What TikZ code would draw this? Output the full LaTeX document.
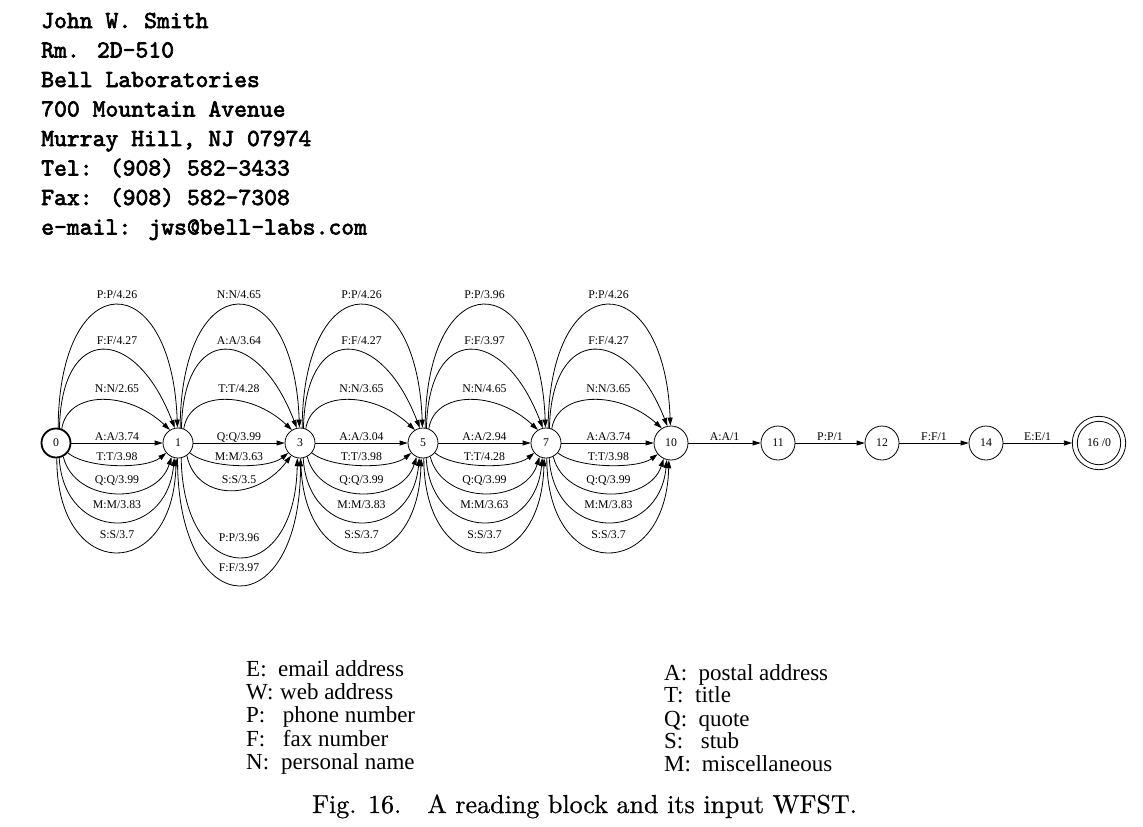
\documentclass[tikz,border=0pt]{standalone}
\usepackage{fontspec}
\newfontfamily\gvfont{Liberation Serif}
\newfontfamily\addrfont{lmmono10-regular.otf}[FakeBold=2.6]
\newfontfamily\capfont{lmroman10-regular.otf}[FakeBold=0.6]
\usetikzlibrary{arrows.meta,calc}

% generic curved arc: src, tgt, src angle, tgt angle, extreme pixel y, ctrl dx at start, ctrl dx at end (leftwards), label dy, label
\newcommand\garc[9]{%
  \draw[edge] let \p1=(#1.#3), \p2=(#2.#4) in
    (\p1) .. controls ({\x1+#6pt},{(-#5pt-0.125*(\y1+\y2))/0.75})
             and ({\x2-#7pt},{(-#5pt-0.125*(\y1+\y2))/0.75}) .. (\p2);
  \node[elbl] (L#1#2#5) at ($(#1)!0.5!(#2)+(0,#8)$) {#9};
}
\newcommand\uP[3]{\garc{#1}{#2}{82}{92}{305}{1}{6}{-145}{#3}}
\newcommand\uF[3]{\garc{#1}{#2}{77}{102}{350}{2}{40}{-98.5}{#3}}
\newcommand\uN[3]{\garc{#1}{#2}{68}{122}{400}{6}{42}{-51}{#3}}
\newcommand\sA[3]{\draw[edge] (#1) -- (#2);
  \node[elbl] (L#1#2s) at ($(#1)!0.5!(#2)+(0,-3)$) {#3};}
\newcommand\lT[3]{\garc{#1}{#2}{-40}{-140}{465}{20}{20}{17}{#3}}
\newcommand\lQ[3]{\garc{#1}{#2}{-62}{-115}{493}{12}{15}{40}{#3}}
\newcommand\lM[3]{\garc{#1}{#2}{-78}{-104}{522}{5}{8}{65}{#3}}
\newcommand\lS[3]{\garc{#1}{#2}{-87}{-97}{552}{0}{3}{95}{#3}}

\begin{document}
\begin{tikzpicture}[x=1pt,y=-1pt,
  edge/.style={line width=0.8pt,-{Triangle[length=8pt,width=5pt]}},
  elbl/.style={anchor=base,inner sep=0pt,font=\gvfont\fontsize{11.8}{12}\selectfont},
  st/.style={circle,draw,line width=0.8pt,minimum size=30pt,inner sep=0pt,font=\gvfont\fontsize{11.8}{12}\selectfont},
  st2/.style={st,minimum size=34pt},
  addr/.style={anchor=base west,inner sep=0pt,font=\addrfont\fontsize{24.5}{26}\selectfont},
  leg/.style={anchor=base west,inner sep=0pt,font=\gvfont\fontsize{23}{24}\selectfont},
  capt/.style={anchor=base,inner sep=0pt,font=\capfont\fontsize{26}{28}\selectfont}]
\useasboundingbox (0,0) rectangle (1143,827);

% address block
\node[addr] (a1) at (41,28) {John W. Smith};
\node[addr] (a2) at (41,57.5) {Rm. 2D-510};
\node[addr] (a3) at (41,87) {Bell Laboratories};
\node[addr] (a4) at (41,116.5) {700 Mountain Avenue};
\node[addr] (a5) at (41,146) {Murray Hill, NJ 07974};
\node[addr] (a6) at (41,175.5) {Tel: (908) 582-3433};
\node[addr] (a7) at (41,205) {Fax: (908) 582-7308};
\node[addr] (a8) at (41,234.5) {e-mail: jws@bell-labs.com};

% states
\node[st,line width=1.8pt,minimum size=29pt] (n0) at (56,443) {0};
\node[st] (n1) at (178,443) {1};
\node[st] (n3) at (300,443) {3};
\node[st] (n5) at (423,443) {5};
\node[st] (n7) at (546,443) {7};
\node[st2] (n10) at (671,443) {10};
\node[st2] (n11) at (778,443) {11};
\node[st2] (n12) at (882,443) {12};
\node[st2] (n14) at (986,443) {14};
\node[st,minimum size=53.4pt] (n16) at (1099,443) {16 /0};
\draw[line width=0.8pt] (n16.center) circle[radius=21.7pt];

% 0 -> 1
\uP{n0}{n1}{P:P/4.26}
\uF{n0}{n1}{F:F/4.27}
\uN{n0}{n1}{N:N/2.65}
\sA{n0}{n1}{A:A/3.74}
\lT{n0}{n1}{T:T/3.98}
\lQ{n0}{n1}{Q:Q/3.99}
\lM{n0}{n1}{M:M/3.83}
\lS{n0}{n1}{S:S/3.7}

% 1 -> 3
\uP{n1}{n3}{N:N/4.65}
\uF{n1}{n3}{A:A/3.64}
\uN{n1}{n3}{T:T/4.28}
\sA{n1}{n3}{Q:Q/3.99}
\lT{n1}{n3}{M:M/3.63}
\garc{n1}{n3}{-55}{-125}{490}{10}{35}{40}{S:S/3.5}
\garc{n1}{n3}{-78}{-100}{557}{2}{2}{98}{P:P/3.96}
\garc{n1}{n3}{-92}{-88}{585}{0}{0}{128}{F:F/3.97}

% 3 -> 5
\uP{n3}{n5}{P:P/4.26}
\uF{n3}{n5}{F:F/4.27}
\uN{n3}{n5}{N:N/3.65}
\sA{n3}{n5}{A:A/3.04}
\lT{n3}{n5}{T:T/3.98}
\lQ{n3}{n5}{Q:Q/3.99}
\lM{n3}{n5}{M:M/3.83}
\lS{n3}{n5}{S:S/3.7}

% 5 -> 7
\uP{n5}{n7}{P:P/3.96}
\uF{n5}{n7}{F:F/3.97}
\uN{n5}{n7}{N:N/4.65}
\sA{n5}{n7}{A:A/2.94}
\lT{n5}{n7}{T:T/4.28}
\lQ{n5}{n7}{Q:Q/3.99}
\lM{n5}{n7}{M:M/3.63}
\lS{n5}{n7}{S:S/3.7}

% 7 -> 10
\uP{n7}{n10}{P:P/4.26}
\uF{n7}{n10}{F:F/4.27}
\uN{n7}{n10}{N:N/3.65}
\sA{n7}{n10}{A:A/3.74}
\lT{n7}{n10}{T:T/3.98}
\lQ{n7}{n10}{Q:Q/3.99}
\lM{n7}{n10}{M:M/3.83}
\lS{n7}{n10}{S:S/3.7}

% chain
\sA{n10}{n11}{A:A/1}
\sA{n11}{n12}{P:P/1}
\sA{n12}{n14}{F:F/1}
\draw[edge] (n14) -- (n16);
\node[elbl] (Ln14n16s) at ($(n14)!0.5!(n16)+(-5,-3)$) {E:E/1};

% legend
\node[leg] (kE) at (246,676) {E:};   \node[leg] (dE) at (278,676) {email address};
\node[leg] (kW) at (246,699) {W:};   \node[leg] (dW) at (280,699) {web address};
\node[leg] (kP) at (246,722.5) {P:}; \node[leg] (dP) at (282.7,722.5) {phone number};
\node[leg] (kF) at (246,746) {F:};   \node[leg] (dF) at (282.7,746) {fax number};
\node[leg] (kN) at (246,769.3) {N:}; \node[leg] (dN) at (281,769.3) {personal name};

\node[leg] (kA) at (664,680) {A:};   \node[leg] (dA) at (698.3,680) {postal address};
\node[leg] (kT) at (664,702.7) {T:}; \node[leg] (dT) at (695,702.7) {title};
\node[leg] (kQ) at (664,726) {Q:};   \node[leg] (dQ) at (698.3,726) {quote};
\node[leg] (kS) at (664,748.3) {S:}; \node[leg] (dS) at (700.7,748.3) {stub};
\node[leg] (kM) at (664,771.7) {M:}; \node[leg] (dM) at (701.7,771.7) {miscellaneous};

% caption
\node[capt] (caption) at (584.5,813) {Fig. 16.\hspace{1em}A reading block and its input WFST.};
\end{tikzpicture}
\end{document}
